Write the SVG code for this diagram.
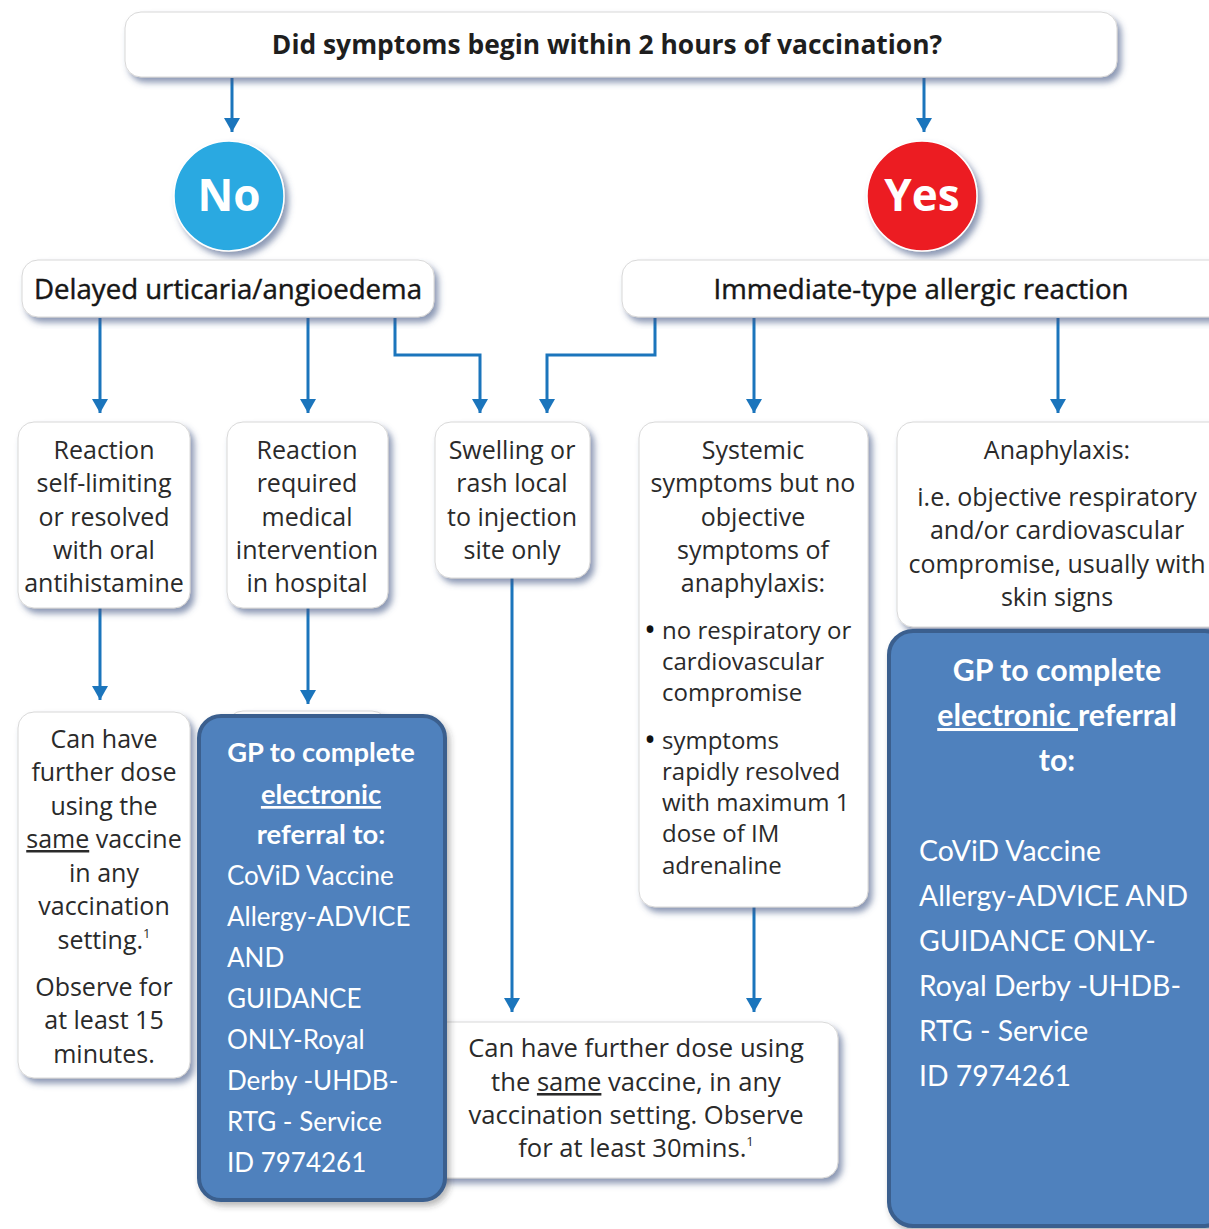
<svg xmlns="http://www.w3.org/2000/svg" width="1209" height="1229" viewBox="0 0 1209 1229">
<style>
.box{fill:#fff;stroke:#d8d8d8;stroke-width:1;filter:url(#sh)}
.blue{fill:#4f81bd;stroke:#3a5f8e;stroke-width:4;filter:url(#sh2)}
.t{font-family:"Open Sans","Noto Sans",sans-serif;font-size:25px;fill:#2a2a2a;text-anchor:middle}
.tl{font-family:"Open Sans","Noto Sans",sans-serif;font-size:24px;fill:#2a2a2a}
.h{font-family:"Open Sans","Noto Sans",sans-serif;font-size:27.6px;fill:#161616;stroke:#161616;stroke-width:0.45;text-anchor:middle}
.c{font-family:Lato,"Liberation Sans",sans-serif;fill:#fff;font-size:26px}
.cb{font-weight:bold;text-anchor:middle;font-size:27.3px}
.c2{font-size:28.4px}
.cb2{font-size:30.3px}
.conn{stroke:#1b75bc;stroke-width:3;fill:none;marker-end:url(#ah)}
.u{text-decoration:underline}
</style>
<defs>
<filter id="sh" x="-10%" y="-10%" width="125%" height="130%">
<feDropShadow dx="4" dy="5" stdDeviation="3" flood-color="#3f5684" flood-opacity="0.6"/>
</filter>
<filter id="sh2" x="-10%" y="-10%" width="125%" height="130%">
<feDropShadow dx="3" dy="4" stdDeviation="3" flood-color="#333" flood-opacity="0.35"/>
</filter>
<marker id="ah" markerUnits="userSpaceOnUse" markerWidth="16" markerHeight="18" refX="14" refY="8" orient="auto">
<path d="M0,0 L14,8 L0,16 z" fill="#1b75bc"/>
</marker>
</defs>

<g id="connectors">
<path class="conn" d="M232,78 V132"/>
<path class="conn" d="M924,78 V132"/>
<path class="conn" d="M100,318 V413"/>
<path class="conn" d="M308,318 V413"/>
<path class="conn" d="M395,318 V355 H480 V413"/>
<path class="conn" d="M655,318 V355 H547 V413"/>
<path class="conn" d="M754,318 V413"/>
<path class="conn" d="M1058,318 V413"/>
<path class="conn" d="M100,608 V700"/>
<path class="conn" d="M308,608 V704"/>
<path class="conn" d="M512,578 V1012"/>
<path class="conn" d="M754,907 V1012"/>
</g>

<g id="question">
<rect class="box" x="125" y="12" width="992" height="65" rx="16"/>
<text x="607" y="54" style="font-family:'Open Sans','Noto Sans',sans-serif;font-size:26.4px;font-weight:bold;fill:#1e1e1e;text-anchor:middle">Did symptoms begin within 2 hours of vaccination?</text>
</g>

<g id="no">
<circle cx="229" cy="196" r="55" fill="#29a9e1" stroke="#fff" stroke-width="1.5" filter="url(#sh)"/>
<text x="229" y="211" style="font-family:'Open Sans','Noto Sans',sans-serif;font-size:44px;font-weight:bold;fill:#fff;text-anchor:middle">No</text>
</g>

<g id="yes">
<circle cx="922" cy="196" r="55" fill="#ec1c24" stroke="#fff" stroke-width="1.5" filter="url(#sh)"/>
<text x="922" y="211" style="font-family:'Open Sans','Noto Sans',sans-serif;font-size:44px;font-weight:bold;fill:#fff;text-anchor:middle">Yes</text>
</g>

<g id="delayed">
<rect class="box" x="22" y="260" width="412" height="57" rx="16"/>
<text class="h" x="228" y="299">Delayed urticaria/angioedema</text>
</g>

<g id="immediate">
<rect class="box" x="622" y="260" width="620" height="57" rx="16"/>
<text class="h" x="921" y="299">Immediate-type allergic reaction</text>
</g>

<g id="self-limiting">
<rect class="box" x="18" y="422" width="172" height="186" rx="16"/>
<text class="t" x="104" y="459">Reaction</text>
<text class="t" x="104" y="492">self-limiting</text>
<text class="t" x="104" y="526">or resolved</text>
<text class="t" x="104" y="559">with oral</text>
<text class="t" x="104" y="592">antihistamine</text>
</g>

<g id="hospital">
<rect class="box" x="227" y="422" width="161" height="186" rx="16"/>
<text class="t" x="307" y="459">Reaction</text>
<text class="t" x="307" y="492">required</text>
<text class="t" x="307" y="526">medical</text>
<text class="t" x="307" y="559">intervention</text>
<text class="t" x="307" y="592">in hospital</text>
</g>

<g id="local">
<rect class="box" x="435" y="422" width="155" height="156" rx="16"/>
<text class="t" x="512" y="459">Swelling or</text>
<text class="t" x="512" y="492">rash local</text>
<text class="t" x="512" y="526">to injection</text>
<text class="t" x="512" y="559">site only</text>
</g>

<g id="systemic">
<rect class="box" x="639" y="422" width="229" height="485" rx="16"/>
<text class="t" x="753" y="459">Systemic</text>
<text class="t" x="753" y="492">symptoms but no</text>
<text class="t" x="753" y="526">objective</text>
<text class="t" x="753" y="559">symptoms of</text>
<text class="t" x="753" y="592">anaphylaxis:</text>
<text class="tl" x="644" y="641" style="font-size:32px;fill:#111">•</text>
<text class="tl" x="662" y="639">no respiratory or</text>
<text class="tl" x="662" y="670">cardiovascular</text>
<text class="tl" x="662" y="701">compromise</text>
<text class="tl" x="644" y="751" style="font-size:32px;fill:#111">•</text>
<text class="tl" x="662" y="749">symptoms</text>
<text class="tl" x="662" y="780">rapidly resolved</text>
<text class="tl" x="662" y="811">with maximum 1</text>
<text class="tl" x="662" y="842">dose of IM</text>
<text class="tl" x="662" y="874">adrenaline</text>
</g>

<g id="anaphylaxis">
<rect class="box" x="897" y="422" width="340" height="205" rx="16"/>
<text class="t" x="1057" y="459">Anaphylaxis:</text>
<text class="t" x="1057" y="506">i.e. objective respiratory</text>
<text class="t" x="1057" y="539">and/or cardiovascular</text>
<text class="t" x="1057" y="573">compromise, usually with</text>
<text class="t" x="1057" y="606">skin signs</text>
</g>

<g id="further-dose-15">
<rect class="box" x="18" y="712" width="172" height="366" rx="16"/>
<text class="t" x="104" y="748">Can have</text>
<text class="t" x="104" y="781">further dose</text>
<text class="t" x="104" y="815">using the</text>
<text class="t" x="104" y="848"><tspan class="u">same</tspan> vaccine</text>
<text class="t" x="104" y="882">in any</text>
<text class="t" x="104" y="915">vaccination</text>
<text class="t" x="104" y="949">setting.<tspan font-size="13" dy="-11">1</tspan></text>
<text class="t" x="104" y="996">Observe for</text>
<text class="t" x="104" y="1029">at least 15</text>
<text class="t" x="104" y="1063">minutes.</text>
</g>

<g id="further-dose-30">
<rect class="box" x="420" y="1022" width="418" height="156" rx="16"/>
<text class="t" x="636" y="1057" style="font-size:25.6px">Can have further dose using</text>
<text class="t" x="636" y="1091" style="font-size:25.6px">the <tspan class="u">same</tspan> vaccine, in any</text>
<text class="t" x="636" y="1124" style="font-size:25.6px">vaccination setting. Observe</text>
<text class="t" x="636" y="1157" style="font-size:25.6px">for at least 30mins.<tspan font-size="13" dy="-11">1</tspan></text>
</g>

<g id="hidden-box">
<rect class="box" x="227" y="711" width="161" height="200" rx="16"/>
</g>

<g id="referral-left">
<rect class="blue" x="199" y="716" width="246" height="484" rx="22"/>
<text class="c cb" x="321" y="762">GP to complete</text>
<text class="c cb u" x="321" y="804">electronic</text>
<text class="c cb" x="321" y="844">referral to:</text>
<text class="c" x="227" y="885">CoViD Vaccine</text>
<text class="c" x="227" y="926">Allergy-ADVICE</text>
<text class="c" x="227" y="967">AND</text>
<text class="c" x="227" y="1008">GUIDANCE</text>
<text class="c" x="227" y="1049">ONLY-Royal</text>
<text class="c" x="227" y="1090">Derby -UHDB-</text>
<text class="c" x="227" y="1131">RTG - Service</text>
<text class="c" x="227" y="1172">ID 7974261</text>
</g>

<g id="referral-right">
<rect class="blue" x="889" y="631" width="340" height="595" rx="24"/>
<text class="c cb cb2" x="1057" y="681">GP to complete</text>
<text class="c cb cb2" x="1057" y="726"><tspan class="u">electronic </tspan>referral</text>
<text class="c cb cb2" x="1057" y="771">to:</text>
<text class="c c2" x="919" y="861">CoViD Vaccine</text>
<text class="c c2" x="919" y="906">Allergy-ADVICE AND</text>
<text class="c c2" x="919" y="951">GUIDANCE ONLY-</text>
<text class="c c2" x="919" y="996">Royal Derby -UHDB-</text>
<text class="c c2" x="919" y="1041">RTG - Service</text>
<text class="c c2" x="919" y="1086">ID 7974261</text>
</g>
</svg>
